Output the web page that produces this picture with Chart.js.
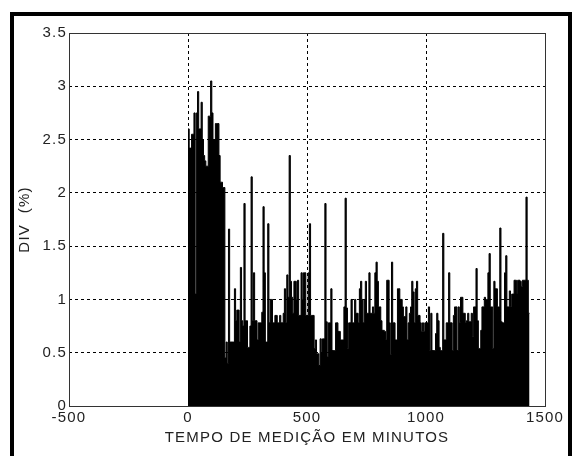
<!DOCTYPE html>
<html>
<head>
<meta charset="utf-8">
<script src="https://cdn.jsdelivr.net/npm/chart.js@4/dist/chart.umd.min.js"></script>
<style>
  html, body { margin: 0; padding: 0; background: #fff; overflow: hidden; }
  #wrap { position: relative; width: 574px; height: 456px; }
  #frame { position: absolute; left: 10px; top: 12px; width: 554px; height: 460px;
           border: 4px solid #000; pointer-events: none; }
  canvas { position: absolute; left: 0; top: 0; }
</style>
</head>
<body>
<div id="wrap">
  <canvas id="divChart" width="574" height="456"></canvas>
  <div id="frame"></div>
</div>
<script>
// eixo X: tempo em minutos, uma amostra a cada 5 minutos (0 .. 1430)
var STEP = 5;
var xTicks = [-500, 0, 500, 1000, 1500];
var yTicks = [0, 0.5, 1, 1.5, 2, 2.5, 3, 3.5];

// DIV (%), 10 amostras (50 min) por linha
var divPct = [
  2.6, 2.42, 2.42, 2.55, 2.55, 2.75, 1.05, 2.75, 2.95, 2.6,
  2.6, 2.85, 2.5, 2.35, 2.3, 2.25, 2.25, 2.72, 2.72, 3.05,
  2.75, 2.5, 2.5, 2.65, 2.65, 2.65, 2.35, 2.1, 2.1, 2.05,
  2.05, 0.45, 0.6, 0.4, 1.66, 0.6, 0.6, 0.6, 0.6, 1.1,
  0.8, 0.9, 0.9, 0.6, 1.3, 0.8, 0.75, 1.9, 0.8, 0.8,
  0.55, 0.55, 0.75, 2.15, 0.8, 1.25, 0.8, 0.8, 0.62, 0.78,
  0.78, 0.78, 0.88, 1.87, 1.25, 0.6, 0.6, 1.71, 0.78, 1.0,
  1.0, 0.78, 0.78, 0.85, 0.85, 0.78, 0.78, 0.85, 0.78, 0.78,
  0.87, 1.1, 0.78, 1.23, 1.02, 2.35, 1.17, 1.02, 0.87, 1.17,
  1.17, 1.0, 1.18, 0.85, 0.85, 1.25, 1.0, 1.25, 1.25, 0.85,
  0.85, 1.25, 1.71, 0.85, 0.85, 0.85, 0.54, 0.62, 0.49, 0.49,
  0.38, 0.63, 0.5, 0.63, 0.63, 1.9, 0.79, 0.46, 0.78, 0.78,
  1.1, 0.52, 0.52, 0.52, 0.78, 0.78, 0.7, 0.7, 0.62, 0.62,
  0.62, 0.93, 1.95, 0.92, 0.54, 0.78, 0.78, 1.0, 0.78, 0.78,
  1.0, 0.87, 0.87, 0.78, 1.1, 1.17, 1.0, 0.78, 1.0, 1.17,
  0.87, 0.87, 1.25, 0.87, 0.87, 0.93, 0.87, 1.25, 1.35, 1.17,
  0.93, 0.93, 0.8, 0.71, 0.71, 0.7, 0.62, 1.18, 1.18, 0.78,
  0.48, 1.35, 0.78, 0.78, 0.62, 0.62, 1.1, 1.1, 1.0, 1.0,
  0.93, 0.84, 0.84, 0.93, 0.62, 0.78, 0.87, 0.93, 1.17, 1.07,
  0.78, 1.1, 1.17, 0.85, 0.85, 0.78, 0.7, 0.78, 0.7, 0.78,
  0.78, 0.78, 0.93, 0.52, 0.87, 0.52, 0.52, 0.52, 0.68, 0.87,
  0.8, 0.55, 0.52, 0.52, 1.62, 0.62, 0.62, 0.78, 0.78, 1.25,
  0.78, 0.78, 0.52, 0.85, 0.93, 0.93, 0.52, 0.93, 0.78, 1.02,
  1.02, 0.87, 0.87, 0.78, 0.8, 0.87, 0.79, 0.79, 0.87, 0.65,
  0.93, 0.93, 1.29, 0.8, 0.54, 0.54, 0.71, 0.93, 0.93, 1.02,
  1.0, 1.0, 1.25, 1.43, 0.93, 0.93, 0.54, 1.17, 1.1, 1.1,
  0.93, 0.93, 1.67, 0.79, 0.78, 0.78, 1.25, 1.41, 0.93, 0.93,
  1.08, 0.93, 1.05, 1.05, 1.18, 1.18, 1.05, 1.18, 1.18, 1.17,
  1.12, 1.18, 1.18, 1.18, 1.96, 1.18, 0.87
];

var points = divPct.map(function (v, i) { return { x: i * STEP, y: v }; });
// fecha o ultimo degrau
points.push({ x: divPct.length * STEP, y: divPct[divPct.length - 1] });

var FONT = { family: "'Liberation Sans', Arial, sans-serif", size: 15 };
var TXT = "#222";

// texto um pouco espacado como no original
var spacingPlugin = {
  id: "spacing",
  beforeLayout: function (chart) { chart.ctx.letterSpacing = "1.2px"; },
  beforeDraw: function (chart) { chart.ctx.letterSpacing = "1.2px"; }
};

// caixa do grafico (estilo matlab)
var boxPlugin = {
  id: "box",
  afterDraw: function (chart) {
    var a = chart.chartArea, ctx = chart.ctx;
    ctx.save();
    ctx.strokeStyle = "#333";
    ctx.lineWidth = 1;
    ctx.strokeRect(Math.round(a.left) + 0.5, Math.round(a.top) + 0.5,
      Math.round(a.right - a.left), Math.round(a.bottom - a.top));
    ctx.restore();
  }
};

var ctx = document.getElementById("divChart").getContext("2d");
var divChart = new Chart(ctx, {
  type: "line",
  data: {
    datasets: [{
      data: points,
      stepped: true,
      fill: "origin",
      backgroundColor: "#000",
      borderColor: "#000",
      borderWidth: 1,
      pointRadius: 0
    }]
  },
  options: {
    responsive: false,
    animation: false,
    layout: { padding: { left: 0, right: 29, top: 33, bottom: 0 } },
    plugins: { legend: { display: false }, tooltip: { enabled: false } },
    scales: {
      x: {
        type: "linear",
        min: -500,
        max: 1500,
        afterBuildTicks: function (s) { s.ticks = xTicks.map(function (v) { return { value: v }; }); },
        afterFit: function (s) { s.height = 50; },
        ticks: { color: TXT, font: FONT, padding: 3, maxRotation: 0,
                 callback: function (v) { return String(v); } },
        grid: { color: "#000", lineWidth: 1, drawTicks: false },
        border: { display: false, dash: [3, 3] },
        title: { display: true, text: "TEMPO DE MEDIÇÃO EM MINUTOS", color: TXT,
                 font: FONT, padding: { top: 0, bottom: 9 } }
      },
      y: {
        min: 0,
        max: 3.5,
        afterBuildTicks: function (s) { s.ticks = yTicks.map(function (v) { return { value: v }; }); },
        afterFit: function (s) { s.width = 69; },
        ticks: { color: TXT, font: FONT, padding: 2,
                 callback: function (v) { return String(v); } },
        grid: { color: "#000", lineWidth: 1, drawTicks: false },
        border: { display: false, dash: [3, 3] },
        title: { display: true, text: "DIV  (%)", color: TXT,
                 font: FONT, padding: { top: 16, bottom: 0 } }
      }
    }
  },
  plugins: [spacingPlugin, boxPlugin]
});
</script>
</body>
</html>
